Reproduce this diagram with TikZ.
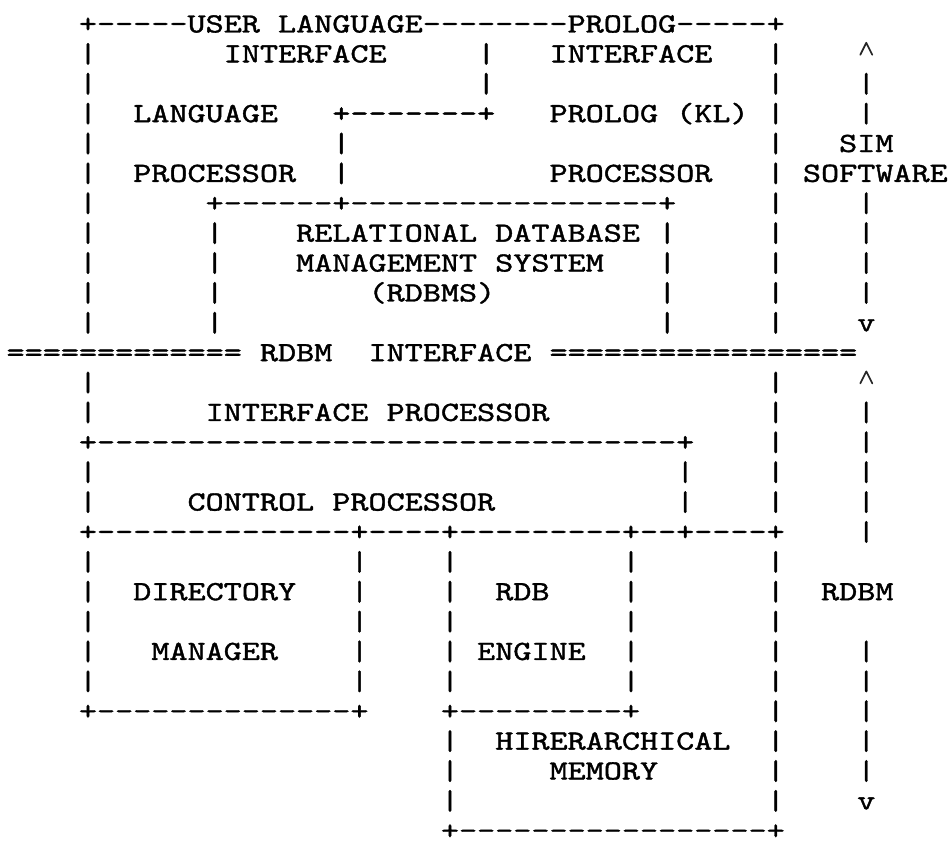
\documentclass[tikz,border=0pt]{standalone}
\usepackage{fontspec}
\usepackage{graphicx}
% slightly heavier typewriter face
\newfontfamily\typefont{lmmono10-regular.otf}[FakeBold=1.2]
% typewriter text, widened so one character fills an 18.1pt cell
\newcommand\typed[1]{\scalebox{1.24}[1]{\fontsize{27.8pt}{30pt}\selectfont\typefont #1}}
% \cellnode{name}{row}{column}{text}: text starting at a cell of the character grid
\newcommand\cellnode[4]{\node[cell] (#1) at ({6.55+18.1*(#3)},{32.5+29.88*(#2)}) {\typed{#4}};}
% \barcol{name}{column}{rows}: a typed vertical line made of | characters
\newcommand\barcol[3]{\foreach \rr in {#3} {\cellnode{#1-\rr}{\rr}{#2}{|}}}
% \caretat{row}{column}: the typed caret heading an upward arrow
\newcommand\caretat[2]{\draw[caret] ({6.55+18.1*(#2)+3.05},{32.5+29.88*(#1)-7.6}) -- ++(6,-12) -- ++(6,12);}

\begin{document}
\begin{tikzpicture}[x=1pt,y=-1pt,
  cell/.style={anchor=base west, inner sep=0pt, outer sep=0pt},
  caret/.style={line width=1.7pt, line cap=round, line join=round, black!85}]
\useasboundingbox (0,0) rectangle (951,845);

% ---- SIM software: user language and Prolog interfaces, RDBMS
\cellnode{top}{0}{4}{+-----USER LANGUAGE--------PROLOG-----+}
\cellnode{uli}{1}{12}{INTERFACE}
\cellnode{pli}{1}{30}{INTERFACE}
\cellnode{lang}{3}{7}{LANGUAGE}
\cellnode{jog}{3}{18}{+-------+}
\cellnode{kl}{3}{30}{PROLOG (KL)}
\cellnode{lproc}{5}{7}{PROCESSOR}
\cellnode{pproc}{5}{30}{PROCESSOR}
\cellnode{dbtop}{6}{11}{+------+-----------------+}
\cellnode{rel}{7}{16}{RELATIONAL DATABASE}
\cellnode{mgmt}{8}{16}{MANAGEMENT SYSTEM}
\cellnode{rdbms}{9}{20}{(RDBMS)}

% ---- the interface line
\cellnode{eqL}{11}{0}{=============}
\cellnode{ifr}{11}{14}{RDBM}
\cellnode{ifw}{11}{20}{INTERFACE}
\cellnode{eqR}{11}{30}{=================}

% ---- RDBM hardware
\cellnode{ip}{13}{11}{INTERFACE PROCESSOR}
\cellnode{iptop}{14}{4}{+--------------------------------+}
\cellnode{cp}{16}{10}{CONTROL PROCESSOR}
\cellnode{cpbot}{17}{4}{+--------------+----+---------+--+----+}
\cellnode{dir}{19}{7}{DIRECTORY}
\cellnode{rdb}{19}{27}{RDB}
\cellnode{mgr}{21}{8}{MANAGER}
\cellnode{eng}{21}{26}{ENGINE}
\cellnode{dirbot}{23}{4}{+--------------+}
\cellnode{engbot}{23}{24}{+---------+}
\cellnode{hier}{24}{27}{HIRERARCHICAL}
\cellnode{mem}{25}{30}{MEMORY}
\cellnode{membot}{27}{24}{+-----------------+}

% ---- vertical lines
\barcol{bl}{4}{1,2,3,4,5,6,7,8,9,10,12,13,15,16,18,19,20,21,22}
\barcol{bu}{26}{1,2}
\barcol{bp}{18}{4,5}
\barcol{bdl}{11}{7,8,9,10}
\barcol{bdr}{36}{7,8,9,10}
\barcol{br}{42}{1,2,3,4,5,6,7,8,9,10,12,13,14,15,16,18,19,20,21,22,23,24,25,26}
\barcol{bc}{37}{15,16}
\barcol{bm}{19}{18,19,20,21,22}
\barcol{be}{24}{18,19,20,21,22,24,25,26}
\barcol{bx}{34}{18,19,20,21,22}

% ---- extent arrows at the right
\caretat{1}{47}
\barcol{sw}{47}{2,3,6,7,8,9,13,14,15,16,17,21,22,23,24,25}
\cellnode{sim}{4}{46}{SIM}
\cellnode{soft}{5}{44}{SOFTWARE}
\cellnode{swdn}{10}{47}{v}
\caretat{12}{47}
\cellnode{rdbm}{19}{45}{RDBM}
\cellnode{hwdn}{26}{47}{v}
\end{tikzpicture}
\end{document}
